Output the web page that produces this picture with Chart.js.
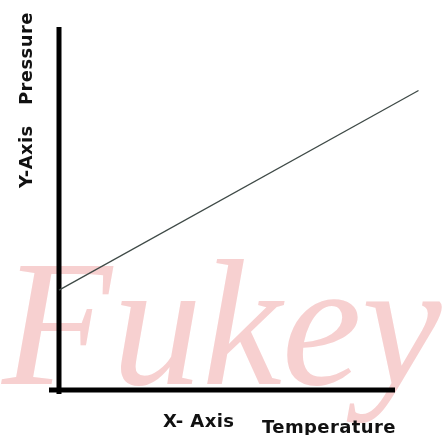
<!DOCTYPE html>
<html>
<head>
<meta charset="utf-8">
<script src="https://cdn.jsdelivr.net/npm/chart.js@4.4.0/dist/chart.umd.min.js"></script>
<style>
  html, body { margin: 0; padding: 0; background: #fff; }
  #wrap { width: 443px; height: 435px; }
</style>
</head>
<body>
<div id="wrap"><canvas id="chart" width="443" height="435"></canvas></div>
<script>
// данные графика
const temperature = [0, 10.7];
const pressure = [2.75, 8.25];
const xLabels = ['X- Axis', 'Temperature'];
const yLabels = ['Y-Axis', 'Pressure'];
const watermark = 'Fukey';

// оси и подписи рисуем сами
const axesPlugin = {
    id: 'axesPlugin',
    beforeDatasetsDraw(chart) {
        const ctx = chart.ctx;
        const xs = chart.scales.x;
        const ys = chart.scales.y;
        const x0 = xs.getPixelForValue(0);
        const y0 = ys.getPixelForValue(0);
        // водяной знак
        ctx.save();
        ctx.fillStyle = '#f7d0d0';
        ctx.font = 'italic 180px "Liberation Serif", serif';
        ctx.fillText(watermark, 2, 384);
        ctx.restore();
        ctx.save();
        ctx.strokeStyle = '#000';
        ctx.lineWidth = 5;
        ctx.beginPath();
        ctx.moveTo(x0, ys.getPixelForValue(10));
        ctx.lineTo(x0, y0 + 4);
        ctx.stroke();
        ctx.beginPath();
        ctx.moveTo(x0 - 10, y0);
        ctx.lineTo(xs.getPixelForValue(10), y0);
        ctx.stroke();
        ctx.restore();
    },
    afterDraw(chart) {
        const ctx = chart.ctx;
        ctx.save();
        ctx.fillStyle = '#111';
        ctx.font = 'bold 18px "DejaVu Sans", sans-serif';
        ctx.letterSpacing = '0.4px';
        ctx.textBaseline = 'alphabetic';
        ctx.textAlign = 'left';
        ctx.fillText(xLabels[0], 163, 427);
        ctx.fillText(xLabels[1], 262, 433);
        // подпись оси Y повернута
        ctx.save();
        ctx.translate(32, 188);
        ctx.rotate(-Math.PI / 2);
        ctx.fillText(yLabels[0], 0, 0);
        ctx.restore();
        ctx.save();
        ctx.translate(32, 105);
        ctx.rotate(-Math.PI / 2);
        ctx.fillText(yLabels[1], 0, 0);
        ctx.restore();
        ctx.restore();
    }
};

new Chart(document.getElementById('chart'), {
    type: 'line',
    data: {
        datasets: [{
            data: temperature.map((t, i) => ({ x: t, y: pressure[i] })),
            borderColor: '#3f4a47',
            borderWidth: 1.3,
            pointRadius: 0,
            fill: false,
            clip: false,
            tension: 0
        }]
    },
    options: {
        responsive: false,
        animation: false,
        layout: { padding: { left: 59, right: 48, top: 27, bottom: 45 } },
        plugins: { legend: { display: false }, tooltip: { enabled: false } },
        scales: {
            x: { type: 'linear', min: 0, max: 10, display: false },
            y: { type: 'linear', min: 0, max: 10, display: false }
        }
    },
    plugins: [axesPlugin]
});
</script>
</body>
</html>
